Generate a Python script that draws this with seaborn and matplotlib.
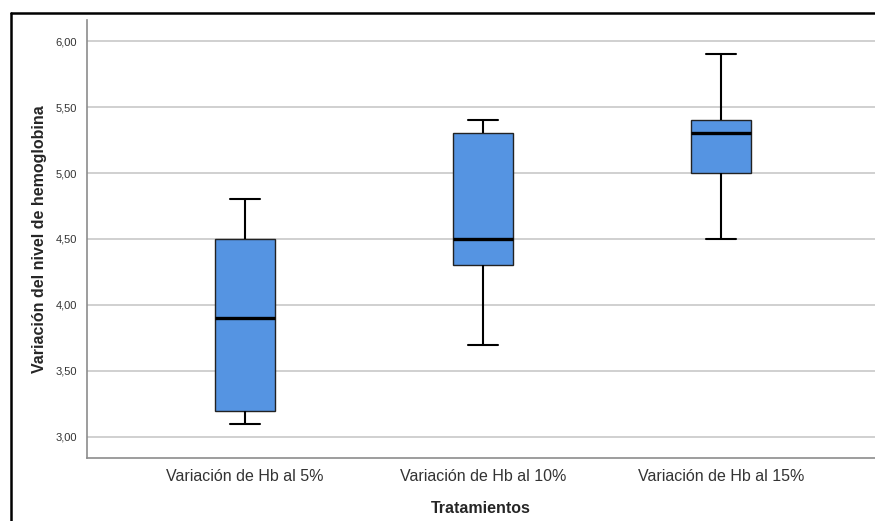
import matplotlib
matplotlib.use("Agg")
import matplotlib.pyplot as plt
import matplotlib.ticker as mticker
from matplotlib.lines import Line2D
import pandas as pd
import seaborn as sns

# Five-number summaries (min, Q1, median, Q3, max)
TREATMENTS = ["Variación de Hb al 5%", "Variación de Hb al 10%", "Variación de Hb al 15%"]
HB_5 = [3.1, 3.2, 3.9, 4.5, 4.8]
HB_10 = [3.7, 4.3, 4.5, 5.3, 5.4]
HB_15 = [4.5, 5.0, 5.3, 5.4, 5.9]
Y_TICKS = [3.0, 3.5, 4.0, 4.5, 5.0, 5.5, 6.0]

df = pd.DataFrame({
    "Tratamientos": [TREATMENTS[0]] * len(HB_5) + [TREATMENTS[1]] * len(HB_10) + [TREATMENTS[2]] * len(HB_15),
    "Hb": HB_5 + HB_10 + HB_15,
})

sns.set_style("white")
plt.rcParams["font.family"] = ["Liberation Sans", "DejaVu Sans"]

fig = plt.figure(figsize=(8.75, 5.21), dpi=100)
ax = fig.add_axes([87 / 875, 63 / 521, 788 / 875, 438 / 521])

sns.boxplot(
    data=df, x="Tratamientos", y="Hb", order=TREATMENTS,
    width=0.25, color="#5594E2", saturation=1, whis=1.5, fliersize=0,
    linecolor="#222222", linewidth=1.0,
    medianprops={"color": "black", "linewidth": 2.4},
    whiskerprops={"color": "black", "linewidth": 1.5},
    capprops={"color": "black", "linewidth": 1.5},
    ax=ax, zorder=3,
)

ax.set_xlim(-0.664, 2.647)
ax.set_ylim(2.84, 6.16)
ax.set_yticks(Y_TICKS)
ax.yaxis.set_major_formatter(mticker.FuncFormatter(lambda v, _: f"{v:.2f}".replace(".", ",")))
ax.yaxis.grid(True, color="#c8c8c8", linewidth=1.2, zorder=0)
ax.set_axisbelow(True)

for side in ["top", "right"]:
    ax.spines[side].set_visible(False)
for side in ["left", "bottom"]:
    ax.spines[side].set_color("#8c8c8c")
    ax.spines[side].set_linewidth(1.2)

ax.tick_params(axis="y", length=4, width=1, color="#8c8c8c", labelsize=8, labelcolor="#333333", pad=3)
ax.tick_params(axis="x", length=0, labelsize=11.5, labelcolor="#333333", pad=8)

ax.set_xlabel("Tratamientos", fontsize=11.5, fontweight="bold", labelpad=12)
ax.set_ylabel("Variación del nivel de hemoglobina", fontsize=11.5, fontweight="bold", labelpad=6)

# outer frame (left and top edges)
fig.add_artist(Line2D([10.5 / 875, 10.5 / 875], [0, 1 - 13 / 521], transform=fig.transFigure, color="black", lw=1.8))
fig.add_artist(Line2D([10.5 / 875, 1], [1 - 13 / 521, 1 - 13 / 521], transform=fig.transFigure, color="black", lw=1.8))

fig.savefig("out.png", dpi=100)
